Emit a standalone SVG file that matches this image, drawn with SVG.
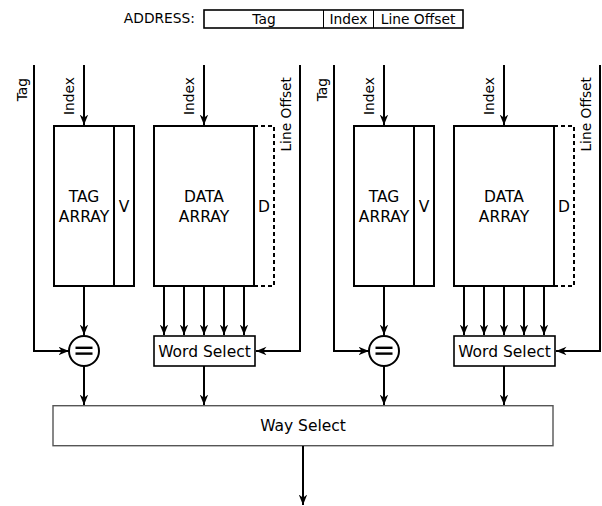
<svg xmlns="http://www.w3.org/2000/svg" width="602" height="506" viewBox="0 0 602 506">
  <defs>
    <marker id="arr" markerUnits="userSpaceOnUse" markerWidth="12" markerHeight="10" refX="10.5" refY="4.25" orient="auto">
      <path d="M0,0 L10.5,4.25 L0,8.5 L3.2,4.25 z" fill="#000"/>
    </marker>
    <style>
      text { font-family: "DejaVu Sans", "Liberation Sans", sans-serif; fill: #000; }
      .big { font-size: 15.5px; text-anchor: middle; }
      .lbl { font-size: 13.8px; }
      .box { fill: #fff; stroke: #000; stroke-width: 2; }
      .dash { fill: none; stroke: #000; stroke-width: 2; stroke-dasharray: 4 3; }
      .wire { fill: none; stroke: #000; stroke-width: 2; }
      .arrow { fill: none; stroke: #000; stroke-width: 2; marker-end: url(#arr); }
      .thin { stroke: #000; stroke-width: 1; }
    </style>
  </defs>

  <!-- address field breakdown -->
  <g id="address">
    <text class="lbl" x="195" y="23" text-anchor="end">ADDRESS:</text>
    <rect x="204" y="10" width="259" height="18" fill="#fff" stroke="#000" stroke-width="1.6"/>
    <line class="thin" x1="323.5" y1="10" x2="323.5" y2="28"/>
    <line class="thin" x1="373.5" y1="10" x2="373.5" y2="28"/>
    <text class="lbl" x="264" y="23.5" text-anchor="middle">Tag</text>
    <text class="lbl" x="348.5" y="23.5" text-anchor="middle">Index</text>
    <text class="lbl" x="418" y="23.5" text-anchor="middle">Line Offset</text>
  </g>

  <!-- way 0 -->
  <g id="tag-array-0">
    <rect class="box" x="54" y="126" width="80" height="160"/>
    <line class="wire" x1="114" y1="126" x2="114" y2="286"/>
    <text class="big" x="84" y="202">TAG</text>
    <text class="big" x="84" y="221.5">ARRAY</text>
    <text class="big" x="124" y="212">V</text>
  </g>
  <g id="data-array-0">
    <rect class="dash" x="254" y="126" width="20" height="160"/>
    <rect class="box" x="154" y="126" width="100" height="160"/>
    <text class="big" x="204" y="202">DATA</text>
    <text class="big" x="204" y="221.5">ARRAY</text>
    <text class="big" x="264" y="212">D</text>
  </g>
  <g id="compare-0">
    <circle cx="84" cy="351" r="15" fill="#fff" stroke="#000" stroke-width="2"/>
    <line x1="75.5" y1="347.8" x2="92.5" y2="347.8" stroke="#000" stroke-width="2.4"/>
    <line x1="75.5" y1="353.6" x2="92.5" y2="353.6" stroke="#000" stroke-width="2.4"/>
  </g>
  <g id="word-select-0">
    <rect x="154" y="336" width="101" height="30" fill="#fff" stroke="#000" stroke-width="1.6"/>
    <text class="big" x="204.5" y="356.5">Word Select</text>
  </g>
  <g id="labels-0">
    <text class="lbl" transform="translate(27,78) rotate(-90)" text-anchor="end">Tag</text>
    <text class="lbl" transform="translate(74,115) rotate(-90)">Index</text>
    <text class="lbl" transform="translate(194,115) rotate(-90)">Index</text>
    <text class="lbl" transform="translate(291,77) rotate(-90)" text-anchor="end">Line Offset</text>
  </g>

  <!-- way 1 -->
  <g id="tag-array-1">
    <rect class="box" x="354" y="126" width="80" height="160"/>
    <line class="wire" x1="414" y1="126" x2="414" y2="286"/>
    <text class="big" x="384" y="202">TAG</text>
    <text class="big" x="384" y="221.5">ARRAY</text>
    <text class="big" x="424" y="212">V</text>
  </g>
  <g id="data-array-1">
    <rect class="dash" x="554" y="126" width="20" height="160"/>
    <rect class="box" x="454" y="126" width="100" height="160"/>
    <text class="big" x="504" y="202">DATA</text>
    <text class="big" x="504" y="221.5">ARRAY</text>
    <text class="big" x="564" y="212">D</text>
  </g>
  <g id="compare-1">
    <circle cx="384" cy="351" r="15" fill="#fff" stroke="#000" stroke-width="2"/>
    <line x1="375.5" y1="347.8" x2="392.5" y2="347.8" stroke="#000" stroke-width="2.4"/>
    <line x1="375.5" y1="353.6" x2="392.5" y2="353.6" stroke="#000" stroke-width="2.4"/>
  </g>
  <g id="word-select-1">
    <rect x="454" y="336" width="101" height="30" fill="#fff" stroke="#000" stroke-width="1.6"/>
    <text class="big" x="504.5" y="356.5">Word Select</text>
  </g>
  <g id="labels-1">
    <text class="lbl" transform="translate(327,78) rotate(-90)" text-anchor="end">Tag</text>
    <text class="lbl" transform="translate(374,115) rotate(-90)">Index</text>
    <text class="lbl" transform="translate(494,115) rotate(-90)">Index</text>
    <text class="lbl" transform="translate(591,77) rotate(-90)" text-anchor="end">Line Offset</text>
  </g>

  <!-- way selection -->
  <g id="way-select">
    <rect x="53" y="405.7" width="500" height="40" fill="#fff" stroke="#555" stroke-width="1.4"/>
    <text class="big" x="303" y="431">Way Select</text>
  </g>

  <g id="connectors">
    <!-- way 0 -->
    <path class="arrow" d="M34,65 V351 H69"/>
    <path class="arrow" d="M84,65 V125"/>
    <path class="arrow" d="M204,65 V125"/>
    <path class="arrow" d="M300,65 V351 H256"/>
    <path class="arrow" d="M84,286 V335"/>
    <path class="arrow" d="M164,286 V335"/>
    <path class="arrow" d="M184,286 V335"/>
    <path class="arrow" d="M204,286 V335"/>
    <path class="arrow" d="M224,286 V335"/>
    <path class="arrow" d="M244,286 V335"/>
    <path class="arrow" d="M84,366 V405"/>
    <path class="arrow" d="M204,366 V405"/>
    <!-- way 1 -->
    <path class="arrow" d="M334,65 V351 H369"/>
    <path class="arrow" d="M384,65 V125"/>
    <path class="arrow" d="M504,65 V125"/>
    <path class="arrow" d="M600,65 V351 H556"/>
    <path class="arrow" d="M384,286 V335"/>
    <path class="arrow" d="M464,286 V335"/>
    <path class="arrow" d="M484,286 V335"/>
    <path class="arrow" d="M504,286 V335"/>
    <path class="arrow" d="M524,286 V335"/>
    <path class="arrow" d="M544,286 V335"/>
    <path class="arrow" d="M384,366 V405"/>
    <path class="arrow" d="M504,366 V405"/>
    <!-- selected word out -->
    <path class="arrow" d="M303,446 V505"/>
  </g>
</svg>
